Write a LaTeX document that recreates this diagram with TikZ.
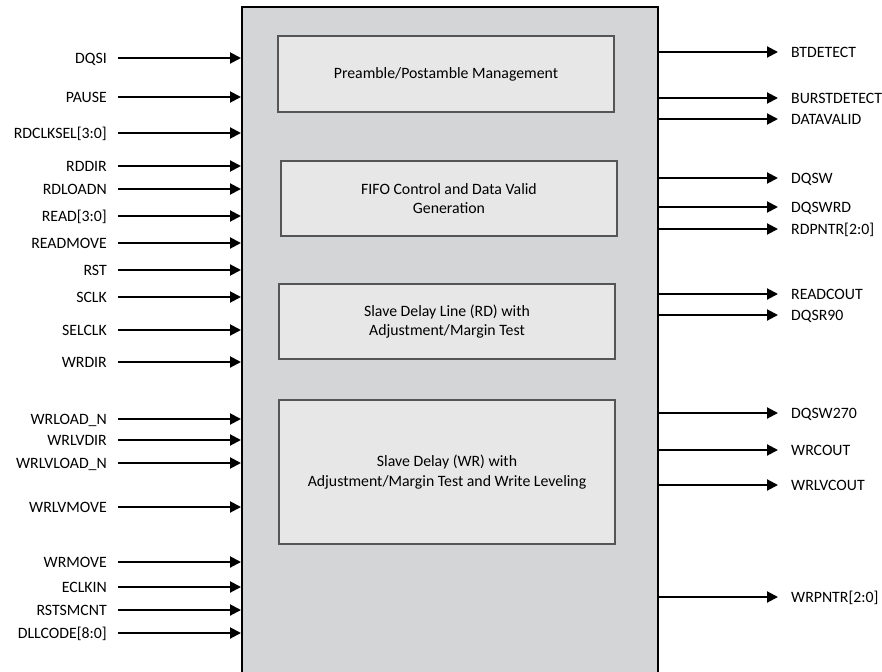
\documentclass[tikz,border=0pt]{standalone}
\usepackage{fontspec}
\setmainfont{Carlito}
\usetikzlibrary{arrows.meta}
\definecolor{mainfill}{HTML}{D4D5D7}
\definecolor{boxfill}{HTML}{E7E7E8}
\definecolor{boxline}{HTML}{555555}
\begin{document}
\begin{tikzpicture}[x=1pt,y=-1pt,
  font=\fontsize{15.8}{19.5}\selectfont,
  mainbox/.style={draw=black,line width=2pt,fill=mainfill,anchor=north west,minimum width=416pt,minimum height=700pt,inner sep=0pt},
  blk/.style={draw=boxline,line width=1.5pt,fill=boxfill,minimum width=336pt,align=center,inner sep=0pt},
  inlbl/.style={anchor=east,inner sep=0pt,text height=10.2pt,text depth=0pt},
  outlbl/.style={anchor=west,inner sep=0pt,text height=10.2pt,text depth=0pt},
  sig/.style={line width=2pt,-{Triangle[length=11pt,width=11pt]}}
]
\useasboundingbox (0,0) rectangle (882,671);
\clip (0,0) rectangle (882,671);
\node[mainbox] (main) at (241,6) {};
\node[blk,minimum height=76pt] (b1) at (446,74) {Preamble/Postamble Management};
\node[blk,minimum height=75pt] (b2) at (449,198.5) {FIFO Control and Data Valid\\Generation};
\node[blk,minimum height=75pt] (b3) at (447,321.5) {Slave Delay Line (RD) with\\Adjustment/Margin Test};
\node[blk,minimum height=144pt] (b4) at (447,472) {Slave Delay (WR) with\\Adjustment/Margin Test and Write Leveling};
% inputs
\foreach \n/\y/\t in {i1/58/DQSI, i2/97/PAUSE, i3/133/{RDCLKSEL[3:0]}, i4/166/RDDIR, i5/189/RDLOADN, i6/216/{READ[3:0]}, i7/243/READMOVE, i8/270/RST, i9/297/SCLK, i10/330/SELCLK, i11/362/WRDIR, i12/419/WRLOAD\_N, i13/440/WRLVDIR, i14/463/WRLVLOAD\_N, i15/507/WRLVMOVE, i16/562/WRMOVE, i17/587/ECLKIN, i18/610/RSTSMCNT, i19/633/{DLLCODE[8:0]}}{
  \node[inlbl] (\n) at (107,\y) {\t};
  \draw[sig] ([xshift=11pt]\n.east) -- (\n.east -| main.west);
}
% outputs
\foreach \n/\y/\t in {o1/52/BTDETECT, o2/98/BURSTDETECT, o3/119/DATAVALID, o4/178/DQSW, o5/207/DQSWRD, o6/229/{RDPNTR[2:0]}, o7/294/READCOUT, o8/315/DQSR90, o9/413/DQSW270, o10/450/WRCOUT, o11/485/WRLVCOUT, o12/597/{WRPNTR[2:0]}}{
  \node[outlbl] (\n) at (791,\y) {\t};
  \draw[sig] (\n.west -| main.east) -- ([xshift=-13pt]\n.west);
}
\end{tikzpicture}
\end{document}
